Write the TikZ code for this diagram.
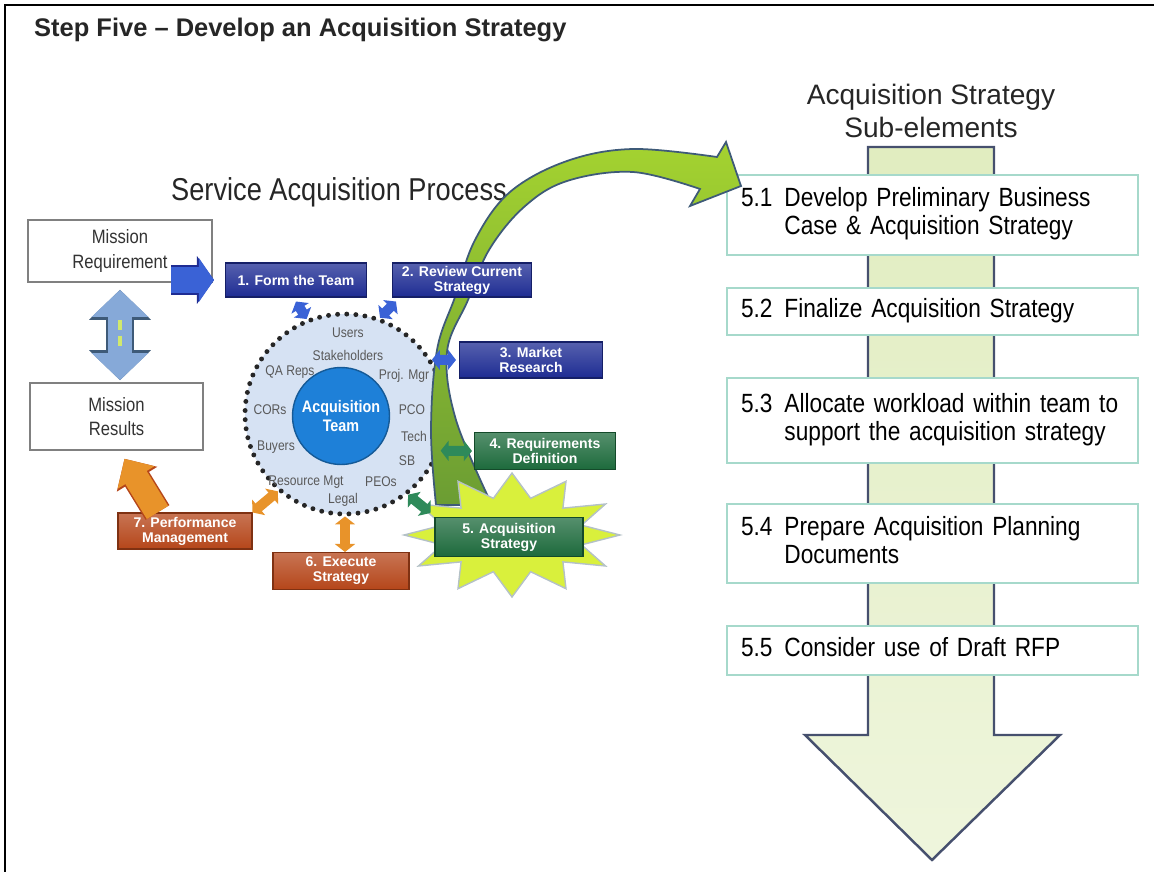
\documentclass[tikz,border=0pt]{standalone}
\usepackage{fontspec}
\setmainfont{Liberation Sans}
\newfontfamily\narrowfont[FakeStretch=0.86]{Liberation Sans}
\usetikzlibrary{arrows.meta, calc, positioning}

\definecolor{phaseblue}{HTML}{1E2C93}
\definecolor{phasegreen}{HTML}{1D6A3C}
\definecolor{phaseorange}{HTML}{B5461A}
\definecolor{linkblue}{HTML}{3A62D6}
\definecolor{linkgreen}{HTML}{2E8A5A}
\definecolor{linkorange}{HTML}{E8932A}
\definecolor{linkpale}{HTML}{86A9D8}
\definecolor{ringfill}{HTML}{D6E2F3}
\definecolor{teamblue}{HTML}{1E80D8}
\definecolor{sweepgreen}{HTML}{86C440}
\definecolor{sweepline}{HTML}{3E5A78}
\definecolor{burst}{HTML}{D9F03C}
\definecolor{flowfill}{HTML}{E1EDC0}
\definecolor{flowline}{HTML}{46506E}
\definecolor{subline}{HTML}{A6D9CB}

\tikzset{
    mission/.style={draw=black!50, line width=0.9pt, fill=white, align=center,
        font=\narrowfont\fontsize{11}{14}\selectfont, text=black!80},
    phase/.style={draw=#1!70!black, top color=#1!75!white, bottom color=#1, text=white, align=center,
        font=\fontsize{8}{8.5}\selectfont\bfseries, line width=0.6pt, inner sep=1pt},
    member/.style={text=black!65, font=\narrowfont\fontsize{8}{9}\selectfont},
    substep/.style={draw=subline, fill=white, line width=1.1pt, text width=7.66cm,
        inner xsep=0.28cm, inner ysep=2pt, align=left,
        font=\narrowfont\fontsize{15}{16}\selectfont, text=black},
    link/.style={#1, line width=0.2cm,
        {Triangle[width=0.4cm,length=0.16cm]}-{Triangle[width=0.4cm,length=0.16cm]}},
    pushblue/.style={draw=linkblue, line width=0.54cm, -{Triangle[width=0.86cm,length=0.3cm]},
        preaction={draw=phaseblue, line width=0.6cm, -{Triangle[width=0.94cm,length=0.34cm]}}},
    pushorange/.style={draw=linkorange, line width=0.5cm, -{Triangle[width=0.84cm,length=0.44cm]},
        preaction={draw=phaseorange, line width=0.56cm, -{Triangle[width=0.92cm,length=0.48cm]}}},
    chainlink/.style={draw=linkpale, line width=0.5cm,
        {Triangle[width=1.1cm,length=0.54cm]}-{Triangle[width=1.1cm,length=0.54cm]},
        preaction={draw=sweepline, line width=0.58cm,
            {Triangle[width=1.2cm,length=0.6cm]}-{Triangle[width=1.2cm,length=0.6cm]}},
        postaction={draw=yellow!70!green!60, line width=2pt, dash pattern=on 6pt off 3pt, -,
            shorten <=0.6cm, shorten >=0.6cm}},
}

\begin{document}
\begin{tikzpicture}[x=0.02cm, y=-0.02cm]
\useasboundingbox (0,0) rectangle (1154,872);
\draw[line width=1.7pt] (5,872) -- (5,5) -- (1154,5);

\node[anchor=west, font=\bfseries\fontsize{14.5}{17}\selectfont, text=black!85] (title) at (28,30) {Step Five – Develop an Acquisition Strategy};
\node[font=\narrowfont\fontsize{18}{20}\selectfont, text=black!85] (proc) at (339,192) {Service Acquisition Process};
\node[align=center, font=\fontsize{16}{18.7}\selectfont, text=black!85] (subtitle) at (931,111) {Acquisition Strategy\\Sub-elements};

\draw[flowline, line width=1.4pt, top color=flowfill, bottom color=flowfill!55!white]
    (868,147) -- (868,735) -- (805,735) -- (932,860) -- (1060,735) -- (994,735) -- (994,147) -- cycle;
\node[substep, minimum height=1.6cm] (b51) at (932.5,215) {\begin{tabular}{@{}l@{\hspace{6.8pt}}l@{}}5.1 & Develop Preliminary Business\\ & Case \& Acquisition Strategy\end{tabular}};
\node[substep, minimum height=0.94cm] (b52) at (932.5,311.5) {\begin{tabular}{@{}l@{\hspace{6.8pt}}l@{}}5.2 & Finalize Acquisition Strategy\end{tabular}};
\node[substep, minimum height=1.7cm] (b53) at (932.5,420.5) {\begin{tabular}{@{}l@{\hspace{6.8pt}}l@{}}5.3 & Allocate workload within team to\\ & support the acquisition strategy\end{tabular}};
\node[substep, minimum height=1.58cm] (b54) at (932.5,543.5) {\begin{tabular}{@{}l@{\hspace{6.8pt}}l@{}}5.4 & Prepare Acquisition Planning\\ & Documents\end{tabular}};
\node[substep, minimum height=0.98cm] (b55) at (932.5,650.5) {\begin{tabular}{@{}l@{\hspace{6.8pt}}l@{}}5.5 & Consider use of Draft RFP\end{tabular}};

\node[mission, minimum width=3.68cm, minimum height=1.24cm] (misreq) at (120,251) {Mission\\Requirement};
\node[mission, minimum width=3.46cm, minimum height=1.34cm] (misres) at (116.5,416.5) {Mission\\Results};

\node[circle, minimum size=4cm, inner sep=0pt, fill=ringfill, draw=black!85, line width=2.8pt,
    dash pattern=on 0pt off 5.2pt, line cap=round] (ring) at (345,414) {};
\node[member] (users) at (348,333) {Users};
\node[member] (stake) at (348,355) {Stakeholders};
\node[member] (qa) at (290,372) {QA Reps};
\node[member] (pm) at (404,376) {Proj. Mgr};
\node[member] (cors) at (270,410) {CORs};
\node[member] (pco) at (412,410) {PCO};
\node[member] (buyers) at (276,447) {Buyers};
\node[member] (tech) at (414,436) {Tech};
\node[member] (sb) at (407,461) {SB};
\node[member] (resmgt) at (306,482) {Resource Mgt};
\node[member] (peos) at (381,482) {PEOs};
\node[member] (legal) at (343,500) {Legal};
\node[circle, minimum size=1.94cm, inner sep=0pt, fill=teamblue, draw=teamblue!70!black, line width=0.8pt,
    text=white, align=center, font=\narrowfont\fontsize{9.5}{11}\selectfont\bfseries] (team) at (341,416) {Acquisition\\Team};

\draw[sweepline, line width=1pt, top color=sweepgreen!75!yellow, bottom color=sweepgreen!80!black]
    plot[smooth, tension=0.6] coordinates {(436,505) (431,430) (437,350) (455,297) (475,240) (510,192) (567,161) (633,149) (717,157)}
    -- (726,142) -- (741,186) -- (690,206)
    -- plot[smooth, tension=0.6] coordinates {(700,189) (633,172) (567,181) (524,207) (489,250) (468,300) (447,352) (456,420) (492,505)}
    -- cycle;

\node[phase=phaseblue, minimum width=2.82cm, minimum height=0.68cm] (s1) at (296,280) {1. Form the Team};
\node[phase=phaseblue, minimum width=2.78cm, minimum height=0.68cm] (s2) at (462,280) {2. Review Current\\Strategy};
\node[phase=phaseblue, minimum width=2.86cm, minimum height=0.72cm] (s3) at (531,360) {3. Market\\Research};
\node[phase=phasegreen, minimum width=2.82cm, minimum height=0.74cm] (s4) at (545,451) {4. Requirements\\Definition};
\node[phase=phaseorange, minimum width=2.72cm, minimum height=0.74cm] (s6) at (341,571) {6. Execute\\Strategy};
\node[phase=phaseorange, minimum width=2.68cm, minimum height=0.72cm] (s7) at (185,531) {7. Performance\\Management};
\filldraw[fill=burst, draw=cyan!30!black!35, line width=0.8pt]
    plot[domain=0:23, samples=24, variable=\k]
    ({512+ifthenelse(mod(\k,2)==0,108,72)*cos(\k*15)}, {535+ifthenelse(mod(\k,2)==0,62,38)*sin(\k*15)}) -- cycle;
\node[phase=phasegreen, minimum width=2.96cm, minimum height=0.78cm] (s5) at (509,537) {5. Acquisition\\Strategy};

\draw[link=linkblue] ([yshift=-0.08cm]s1.south) -- (ring.112);
\draw[link=linkblue] ([shift={(4,4)}]s2.south west) -- (ring.70);
\draw[link=linkblue] (ring.32) -- ([xshift=-0.06cm]s3.west);
\draw[link=linkgreen] (ring.339) -- ([xshift=-0.04cm]s4.west);
\draw[link=linkgreen] (ring.308) -- ([shift={(-4,-4)}]s5.north west);
\draw[link=linkorange] (ring.south) -- (ring.south |- s6.north);
\draw[link=linkorange] (s7.north east) -- (ring.229);

\draw[pushblue] ($(misreq.east |- s1.west)+(-42,0)$) -- ($(s1.west)+(-11,0)$);
\draw[chainlink] ([yshift=-0.14cm]misreq.south) -- ([yshift=0.04cm]misreq.south |- misres.north);
\draw[pushorange] ($(s7.north west)+(40,0)$) -- ($(misres.south)+(8,8)$);
\end{tikzpicture}
\end{document}
